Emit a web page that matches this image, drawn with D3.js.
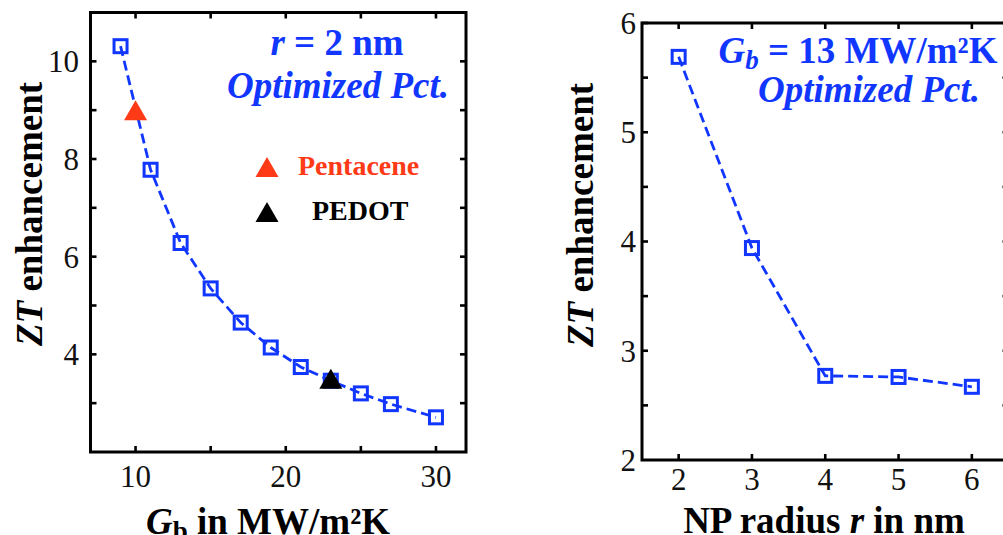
<!DOCTYPE html>
<html>
<head>
<meta charset="utf-8">
<script src="https://cdn.jsdelivr.net/npm/d3@7"></script>
<style>
  html, body { margin: 0; padding: 0; background: #fff; }
  svg { display: block; font-family: "Liberation Serif", "Times New Roman", serif; }
</style>
</head>
<body>
<svg id="chart" width="1003" height="535"></svg>
<script>
// ZT enhancement vs. boundary conductance G_b (r = 2 nm)
const gbValues = [9, 11, 13, 15, 17, 19, 21, 23, 25, 27, 30];
const ztVsGb   = [10.31, 7.78, 6.28, 5.35, 4.65, 4.14, 3.74, 3.46, 3.20, 2.98, 2.71];

// Reference materials
const materialNames = ["Pentacene", "PEDOT"];
const materialGb    = [10, 23];
const materialZT    = [9.0, 3.5];
const materialColor = ["#ff3a17", "#000000"];

// ZT enhancement vs. nanoparticle radius (G_b = 13 MW/m²K)
const radiusValues = [2, 3, 4, 5, 6];
const ztVsRadius   = [5.69, 3.94, 2.77, 2.76, 2.67];

// Axis ticks
const leftXTicks  = [10, 15, 20, 25, 30];
const leftXLabels = [10, 20, 30];
const leftYTicks  = [3, 4, 5, 6, 7, 8, 9, 10];
const leftYLabels = [4, 6, 8, 10];
const rightXTicks = [2, 3, 4, 5, 6];
const rightYTicks = [2.5, 3, 3.5, 4, 4.5, 5, 5.5, 6];
const rightYLabels = [2, 3, 4, 5, 6];

const BLUE = "#1036ff";
const svg = d3.select("#chart");

function framedPanel(opts) {
  const { x, y, xTicks, xLabels, yTicks, yLabels, xLabelY, yLabelX, sides } = opts;
  const g = svg.append("g");
  const [x0, x1] = x.range();
  const [y0, y1] = y.range();

  // inward ticks
  const tickLen = 6;
  const tickG = g.append("g").attr("stroke", "#000").attr("stroke-width", 2.6);
  xTicks.forEach(t => {
    tickG.append("line").attr("x1", x(t)).attr("x2", x(t)).attr("y1", y0).attr("y2", y0 - tickLen);
    tickG.append("line").attr("x1", x(t)).attr("x2", x(t)).attr("y1", y1).attr("y2", y1 + tickLen);
  });
  yTicks.forEach(t => {
    tickG.append("line").attr("x1", x0).attr("x2", x0 + tickLen).attr("y1", y(t)).attr("y2", y(t));
    if (sides.right) tickG.append("line").attr("x1", x1).attr("x2", x1 - tickLen).attr("y1", y(t)).attr("y2", y(t));
  });

  // frame
  g.append("rect")
    .attr("x", x0).attr("y", y1)
    .attr("width", x1 - x0).attr("height", y0 - y1)
    .attr("fill", "none").attr("stroke", "#000").attr("stroke-width", 3);

  // tick labels
  g.append("g").selectAll("text").data(xLabels).join("text")
    .attr("x", d => x(d)).attr("y", xLabelY)
    .attr("text-anchor", "middle").attr("font-size", 31).attr("fill", "#111")
    .text(d => d);
  g.append("g").selectAll("text").data(yLabels).join("text")
    .attr("x", yLabelX).attr("y", d => y(d)).attr("dy", "0.35em")
    .attr("text-anchor", "end").attr("font-size", 31).attr("fill", "#111")
    .text(d => d);
  return g;
}

function squareSeries(g, x, y, xs, ys) {
  const pts = xs.map((v, i) => [x(v), y(ys[i])]);
  g.append("path")
    .attr("d", d3.line()(pts))
    .attr("fill", "none").attr("stroke", BLUE).attr("stroke-width", 2.8)
    .attr("stroke-dasharray", "10,5");
  const s = 13;
  g.append("g").selectAll("rect").data(pts).join("rect")
    .attr("x", d => d[0] - s / 2).attr("y", d => d[1] - s / 2)
    .attr("width", s).attr("height", s)
    .attr("fill", "none").attr("stroke", BLUE).attr("stroke-width", 3);
}

function triangle(cx, cy, w, h) {
  return `M${cx},${cy - h / 2}L${cx + w / 2},${cy + h / 2}L${cx - w / 2},${cy + h / 2}Z`;
}

function yTitle(cx, cy) {
  const t = svg.append("text")
    .attr("transform", `translate(${cx},${cy}) rotate(-90)`)
    .attr("text-anchor", "middle").attr("font-size", 37).attr("font-weight", "bold");
  t.append("tspan").attr("font-style", "italic").text("ZT");
  t.append("tspan").text(" enhancement");
}

// ---------- Left panel ----------
const xL = d3.scaleLinear().domain([7, 32]).range([90.5, 466]);
const yL = d3.scaleLinear().domain([2, 11]).range([452, 12.5]);
const gL = framedPanel({
  x: xL, y: yL,
  xTicks: leftXTicks, xLabels: leftXLabels,
  yTicks: leftYTicks, yLabels: leftYLabels,
  xLabelY: 487, yLabelX: 79, sides: { right: true }
});
squareSeries(gL, xL, yL, gbValues, ztVsGb);

// material markers
materialNames.forEach((m, i) => {
  gL.append("path")
    .attr("d", triangle(xL(materialGb[i]), yL(materialZT[i]), 23, 20))
    .attr("fill", materialColor[i]);
});

// legend
const legendY = [167, 212];
const legendTextX = [298, 312];
const legendBaseline = [175, 220];
materialNames.forEach((m, i) => {
  gL.append("path").attr("d", triangle(267, legendY[i], 23, 20)).attr("fill", materialColor[i]);
  gL.append("text").attr("x", legendTextX[i]).attr("y", legendBaseline[i])
    .attr("font-size", 28).attr("font-weight", "bold").attr("fill", materialColor[i])
    .text(m);
});

// annotation
const annL = svg.append("g").attr("fill", BLUE).attr("font-weight", "bold").attr("text-anchor", "middle");
const a1 = annL.append("text").attr("x", 337).attr("y", 55).attr("font-size", 37);
a1.append("tspan").attr("font-style", "italic").text("r");
a1.append("tspan").text(" = 2 nm");
annL.append("text").attr("x", 338).attr("y", 98).attr("font-size", 37)
  .attr("font-style", "italic").text("Optimized Pct.");

yTitle(42, 214);

const xtL = svg.append("text").attr("x", 268).attr("y", 534)
  .attr("text-anchor", "middle").attr("font-size", 37).attr("font-weight", "bold");
xtL.append("tspan").attr("font-style", "italic").text("G");
xtL.append("tspan").attr("font-size", 27).attr("dy", 6).text("b");
xtL.append("tspan").attr("dy", -6).text(" in MW/m²K");

// ---------- Right panel ----------
const xR = d3.scaleLinear().domain([1.5, 6.5]).range([642, 1008.5]);
const yR = d3.scaleLinear().domain([2, 6]).range([460, 23]);
const gR = framedPanel({
  x: xR, y: yR,
  xTicks: rightXTicks, xLabels: rightXTicks,
  yTicks: rightYTicks, yLabels: rightYLabels,
  xLabelY: 490, yLabelX: 636, sides: { right: true }
});
squareSeries(gR, xR, yR, radiusValues, ztVsRadius);

const annR = svg.append("g").attr("fill", BLUE).attr("font-weight", "bold").attr("text-anchor", "middle");
const b1 = annR.append("text").attr("x", 858).attr("y", 63).attr("font-size", 37);
b1.append("tspan").attr("font-style", "italic").text("G");
b1.append("tspan").attr("font-style", "italic").attr("font-size", 27).attr("dy", 6).text("b");
b1.append("tspan").attr("dy", -6).text(" = 13 MW/m²K");
annR.append("text").attr("x", 869).attr("y", 102).attr("font-size", 37)
  .attr("font-style", "italic").text("Optimized Pct.");

yTitle(593, 215);

const xtR = svg.append("text").attr("x", 824).attr("y", 533)
  .attr("text-anchor", "middle").attr("font-size", 37).attr("font-weight", "bold");
xtR.append("tspan").text("NP radius ");
xtR.append("tspan").attr("font-style", "italic").text("r");
xtR.append("tspan").text(" in nm");
</script>
</body>
</html>
